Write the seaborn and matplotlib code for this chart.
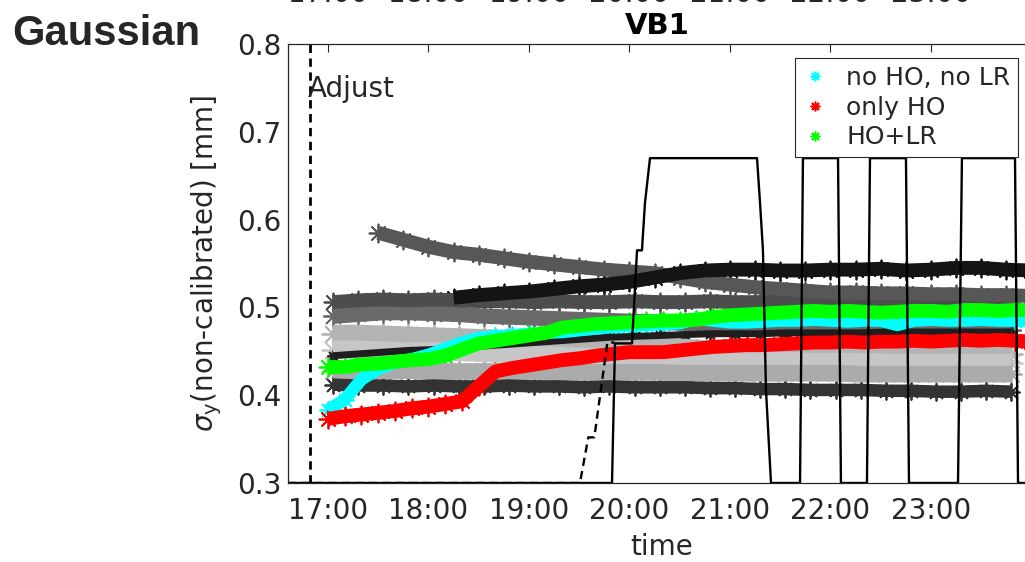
import numpy as np
import matplotlib
matplotlib.use("Agg")
import matplotlib.pyplot as plt
import matplotlib.transforms as mtransforms
from matplotlib.lines import Line2D
from matplotlib.ticker import FixedLocator, FixedFormatter
import seaborn as sns

# ---------------- data (time in decimal hours) ----------------
hour_ticks = [17, 18, 19, 20, 21, 22, 23]
hour_labels = ["17:00", "18:00", "19:00", "20:00", "21:00", "22:00", "23:00"]
y_ticks = [0.3, 0.4, 0.5, 0.6, 0.7, 0.8]
legend_labels = ["no HO, no LR", "only HO", "HO+LR"]
adjust_time = 16.82

# gray background series, sampled every 15 minutes from their start time
gray_step = 0.25
g_upper_start = 17.5
g_upper = [0.585, 0.577, 0.569, 0.563, 0.560, 0.556, 0.552, 0.549, 0.546, 0.543,
           0.541, 0.539, 0.534, 0.529, 0.526, 0.523, 0.521, 0.519, 0.517, 0.517,
           0.516, 0.516, 0.515, 0.515, 0.514, 0.514, 0.513]
g_black_start = 18.25
g_black = [0.511, 0.514, 0.516, 0.518, 0.521, 0.524, 0.526, 0.529, 0.534, 0.539,
           0.542, 0.543, 0.543, 0.542, 0.542, 0.543, 0.543, 0.544, 0.542, 0.543,
           0.545, 0.545, 0.543, 0.542]
g_mid_start = 17.05
g_dark51 = [0.506, 0.508, 0.509, 0.508, 0.509, 0.508, 0.507, 0.507, 0.506, 0.507,
            0.506, 0.506, 0.507, 0.506, 0.506, 0.507, 0.506, 0.506, 0.507, 0.506,
            0.506, 0.507, 0.506, 0.506, 0.505, 0.506, 0.505, 0.505]
g_gray49 = [0.490, 0.492, 0.494, 0.494, 0.493, 0.492, 0.490, 0.489, 0.488, 0.487,
            0.486, 0.485, 0.484, 0.483, 0.482, 0.481, 0.480, 0.479, 0.478, 0.478,
            0.477, 0.477, 0.476, 0.476, 0.475, 0.475, 0.474, 0.474]
g_black46 = [0.445, 0.447, 0.449, 0.451, 0.452, 0.454, 0.456, 0.458, 0.460, 0.462,
             0.464, 0.466, 0.467, 0.468, 0.469, 0.470, 0.470, 0.470, 0.471, 0.471,
             0.471, 0.471, 0.472, 0.472, 0.472, 0.472, 0.472, 0.472]
g_light1 = [0.470, 0.470, 0.469, 0.468, 0.467, 0.466, 0.465, 0.464, 0.462, 0.461,
            0.460, 0.458, 0.457, 0.455, 0.454, 0.452, 0.451, 0.450, 0.449, 0.449,
            0.448, 0.448, 0.448, 0.447, 0.447, 0.447, 0.447, 0.447]
g_light2 = [0.452, 0.452, 0.451, 0.450, 0.450, 0.449, 0.448, 0.447, 0.446, 0.445,
            0.444, 0.443, 0.442, 0.441, 0.441, 0.440, 0.440, 0.439, 0.439, 0.438,
            0.438, 0.438, 0.437, 0.437, 0.437, 0.437, 0.437, 0.437]
g_light3 = [0.428, 0.428, 0.428, 0.428, 0.427, 0.427, 0.427, 0.427, 0.427, 0.426,
            0.426, 0.426, 0.426, 0.426, 0.425, 0.425, 0.425, 0.425, 0.425, 0.425,
            0.425, 0.424, 0.424, 0.424, 0.424, 0.424, 0.424, 0.424]
g_dark41 = [0.412, 0.411, 0.411, 0.410, 0.411, 0.410, 0.410, 0.411, 0.410, 0.410,
            0.409, 0.410, 0.409, 0.409, 0.409, 0.408, 0.408, 0.407, 0.407, 0.406,
            0.406, 0.406, 0.405, 0.405, 0.404, 0.404, 0.405, 0.404]

# coloured series, sampled every 10 minutes from 17:00
col_step = 1.0 / 6.0
col_start = 17.0
no_ho_no_lr = [0.383, 0.395, 0.418, 0.430, 0.437, 0.441, 0.446, 0.453, 0.460, 0.465,
               0.467, 0.468, 0.470, 0.471, 0.472, 0.474, 0.476, 0.478, 0.479, 0.480,
               0.481, 0.482, 0.487, 0.485, 0.483, 0.483, 0.484, 0.485, 0.485, 0.486,
               0.485, 0.484, 0.485, 0.485, 0.480, 0.485, 0.486, 0.485, 0.485, 0.486,
               0.485, 0.485, 0.485]
only_ho = [0.373, 0.376, 0.378, 0.380, 0.382, 0.385, 0.387, 0.390, 0.393, 0.410,
           0.427, 0.431, 0.434, 0.437, 0.440, 0.442, 0.445, 0.447, 0.449, 0.449,
           0.449, 0.451, 0.453, 0.455, 0.456, 0.457, 0.457, 0.458, 0.459, 0.460,
           0.460, 0.461, 0.460, 0.461, 0.461, 0.462, 0.461, 0.462, 0.463, 0.462,
           0.463, 0.462, 0.461]
ho_lr = [0.432, 0.432, 0.435, 0.436, 0.438, 0.440, 0.441, 0.445, 0.452, 0.459,
         0.462, 0.465, 0.468, 0.471, 0.477, 0.479, 0.481, 0.482, 0.483, 0.484,
         0.485, 0.485, 0.486, 0.489, 0.491, 0.492, 0.493, 0.494, 0.495, 0.496,
         0.495, 0.496, 0.495, 0.494, 0.495, 0.496, 0.496, 0.495, 0.497, 0.497,
         0.496, 0.497, 0.497]

# solid and dashed black traces
solid_t = [16.60, 19.826, 19.856, 20.025, 20.075, 20.124, 20.154, 20.204, 21.269,
           21.299, 21.328, 21.358, 21.408, 21.697, 21.726, 22.075, 22.104, 22.363,
           22.393, 22.751, 22.781, 23.269, 23.308, 23.836, 23.866, 24.10]
solid_v = [0.300, 0.300, 0.459, 0.459, 0.565, 0.565, 0.619, 0.670, 0.670,
           0.619, 0.565, 0.406, 0.300, 0.300, 0.670, 0.670, 0.300, 0.300,
           0.670, 0.670, 0.300, 0.300, 0.670, 0.670, 0.300, 0.300]
dashed_t = [16.60, 19.507, 19.590, 19.650, 19.780, 19.850]
dashed_v = [0.300, 0.300, 0.352, 0.352, 0.460, 0.460]

# ---------------- figure ----------------
sns.set_style("white")
plt.rcParams["font.family"] = ["DejaVu Sans"]
plt.rcParams["mathtext.fontset"] = "dejavusans"
txt = "#262626"
asterisk = (8, 2, 0)

fig = plt.figure(figsize=(10.25, 5.62), dpi=100)
ax = fig.add_axes([288 / 1025, 79 / 562, 747 / 1025, 439 / 562])


def band(start, step, vals, color, lw):
    t = start + step * np.arange(len(vals))
    sns.lineplot(x=t, y=vals, color=color, lw=lw, ax=ax, estimator=None,
                 sort=False, legend=False, solid_capstyle="butt")
    sns.scatterplot(x=t, y=vals, marker=asterisk, s=(lw + 3) ** 2, color=color,
                    edgecolor=color, linewidth=1.3, ax=ax, legend=False)


band(g_mid_start, gray_step, g_light1, "#b3b3b3", 13)
band(g_mid_start, gray_step, g_light2, "#c6c6c6", 13)
band(g_mid_start, gray_step, g_light3, "#ababab", 12)
band(g_mid_start, gray_step, g_dark41, "#333333", 9)
band(g_mid_start, gray_step, g_gray49, "#6a6a6a", 11)
band(g_mid_start, gray_step, g_dark51, "#4d4d4d", 10)
band(g_mid_start, gray_step, g_black46, "#1e1e1e", 5)
band(g_upper_start, gray_step, g_upper, "#575757", 10)
band(g_black_start, gray_step, g_black, "#141414", 10)

band(col_start, col_step, no_ho_no_lr, "#00ffff", 9)
band(col_start, col_step, only_ho, "#ff0000", 10)
band(col_start, col_step, ho_lr, "#00ff00", 10)

sns.lineplot(x=solid_t, y=solid_v, color="black", lw=1.7, ax=ax,
             estimator=None, sort=False, legend=False)
sns.lineplot(x=dashed_t, y=dashed_v, color="black", lw=1.7, ax=ax,
             estimator=None, sort=False, legend=False, linestyle=(0, (3.5, 2.2)))
ax.axvline(adjust_time, color="black", lw=2.0, linestyle=(0, (3.0, 2.0)))
ax.text(adjust_time - 0.02, 0.7487, "Adjust", fontsize=20, color=txt,
        ha="left", va="center")

# axes formatting
ax.set_xlim(16.602, 24.035)
ax.set_ylim(0.3, 0.8)
ax.xaxis.set_major_locator(FixedLocator(hour_ticks))
ax.xaxis.set_major_formatter(FixedFormatter(hour_labels))
ax.set_yticks(y_ticks)
ax.set_yticklabels([f"{v:.1f}" for v in y_ticks])
ax.tick_params(axis="both", direction="in", length=6, width=0.8, colors=txt,
               labelsize=20, top=True, right=True)
ax.tick_params(axis="x", pad=10)
ax.tick_params(axis="y", pad=5)
for s in ax.spines.values():
    s.set_color(txt)
    s.set_linewidth(0.9)
ax.set_xlabel("time", fontsize=20, color=txt, labelpad=6)
ax.set_ylabel(r"$\sigma_{\mathrm{y}}$(non-calibrated) [mm]", fontsize=20, color=txt)
ax.yaxis.set_label_coords(-0.086, 0.5)
ax.set_title("VB1", fontsize=21, fontweight="bold", color="black", x=0.494, pad=7)

handles = [Line2D([0], [0], ls="none", marker=asterisk, markersize=7,
                  markeredgewidth=1.2, color=c)
           for c in ["#00ffff", "#ff0000", "#00ff00"]]
leg = ax.legend(handles, legend_labels, loc="upper right",
                bbox_to_anchor=(1018 / 1025, 1 - 58 / 562),
                bbox_transform=fig.transFigure, fontsize=18, frameon=True,
                fancybox=False, framealpha=1, edgecolor=txt, handlelength=1.0,
                handletextpad=0.75, borderpad=0.3, labelspacing=0.24,
                borderaxespad=0)
leg.get_frame().set_linewidth(0.8)
for t in leg.get_texts():
    t.set_color(txt)

# cut-off tick labels of the panel above
trans = mtransforms.blended_transform_factory(ax.transData, fig.transFigure)
for h, lab in zip(hour_ticks, hour_labels):
    ax.text(h, 1.0 - 2.5 / 562, lab, transform=trans, fontsize=20, color=txt,
            ha="center", va="baseline", clip_on=False)

fig.text(12 / 1025, 1 - 45 / 562, "Gaussian", fontsize=30, fontweight="bold",
         family=["Liberation Sans", "DejaVu Sans"], ha="left", va="baseline")

fig.savefig("out.png", dpi=100)
